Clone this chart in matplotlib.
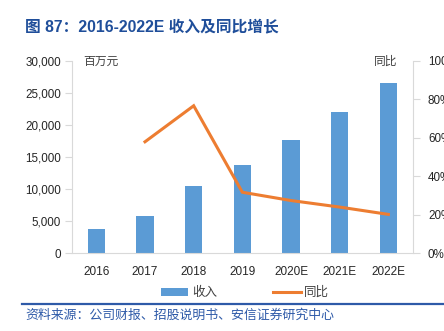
import matplotlib
matplotlib.use("Agg")
import matplotlib.pyplot as plt
from matplotlib.lines import Line2D
from matplotlib.patches import Patch

plt.rcParams['font.family'] = ['Liberation Sans', 'Noto Sans CJK SC', 'DejaVu Sans']

years = ["2016", "2017", "2018", "2019", "2020E", "2021E", "2022E"]
revenue = [3740, 5860, 10440, 13750, 17650, 21960, 26480]
yoy_years = ["2017", "2018", "2019", "2020E", "2021E", "2022E"]
yoy = [57.9, 76.6, 31.7, 27.4, 24.0, 20.2]

title = "图 87：2016-2022E 收入及同比增长"
source = "资料来源：公司财报、招股说明书、安信证券研究中心"

BAR = "#5B9BD5"
LINE = "#ED7D31"
GRID = "#D9D9D9"
TXT = "#262626"

W, H = 444, 331
fig = plt.figure(figsize=(W / 100, H / 100), dpi=100)
ax = fig.add_axes([72 / W, (H - 253.3) / H, (412.7 - 72) / W, (253.3 - 60.7) / H])
ax2 = ax.twinx()

x = list(range(len(years)))
ax.bar(x, revenue, width=0.36, color=BAR, zorder=2)
xi = [years.index(y) for y in yoy_years]
ax2.plot(xi, yoy, color=LINE, lw=2.2, solid_joinstyle='miter', zorder=3)

ax.set_xlim(-0.5, len(years) - 0.5)
ax.set_ylim(0, 30000)
ax.set_yticks(range(0, 30001, 5000))
ax.set_yticklabels([f"{v:,}" for v in range(0, 30001, 5000)])
ax2.set_ylim(0, 100)
ax2.set_yticks(range(0, 101, 20))
ax2.set_yticklabels([f"{v}%" for v in range(0, 101, 20)])
ax.set_xticks(x)
ax.set_xticklabels(years)

for a in (ax, ax2):
    a.spines["top"].set_visible(False)
    a.spines["left"].set_color(GRID)
    a.spines["right"].set_color(GRID)
    a.spines["bottom"].set_color(GRID)
    a.tick_params(axis='y', colors=GRID, labelcolor=TXT, labelsize=8.4, length=5, width=0.8, pad=3)
ax.spines["right"].set_visible(False)
ax2.spines["left"].set_visible(False)
ax2.spines["bottom"].set_visible(False)
ax2.tick_params(axis='y', pad=6)
ax.tick_params(axis='x', length=0, labelsize=8.5, labelcolor=TXT, pad=9)

fig.text(83 / W, 1 - 62 / H, "百万元", fontsize=8.5, color="#404040", ha='left', va='center', style='italic')
fig.text(397 / W, 1 - 62 / H, "同比", fontsize=8.5, color="#404040", ha='right', va='center', style='italic')

fig.text(25 / W, 1 - 27 / H, title, fontsize=11.3, fontweight='bold', color="#1F4E9A", ha='left', va='center')

handles = [Patch(facecolor=BAR, edgecolor='none'), Line2D([], [], color=LINE, lw=2.2)]
fig.legend(handles, ["收入", "同比"], loc='center', bbox_to_anchor=(245 / W, 1 - 293 / H), ncol=2,
           frameon=False, fontsize=9, handlelength=2.2, handleheight=0.55, columnspacing=4.5,
           handletextpad=0.3, labelcolor="#404040")

fig.add_artist(Line2D([22 / W, 1.0], [1 - 304 / H, 1 - 304 / H], color="#2E5AA8", lw=1.6, transform=fig.transFigure))
fig.text(25 / W, 1 - 316 / H, source, fontsize=9.3, color="#2E5AA8", ha='left', va='center', style='italic')

fig.savefig("out.png", dpi=100)
